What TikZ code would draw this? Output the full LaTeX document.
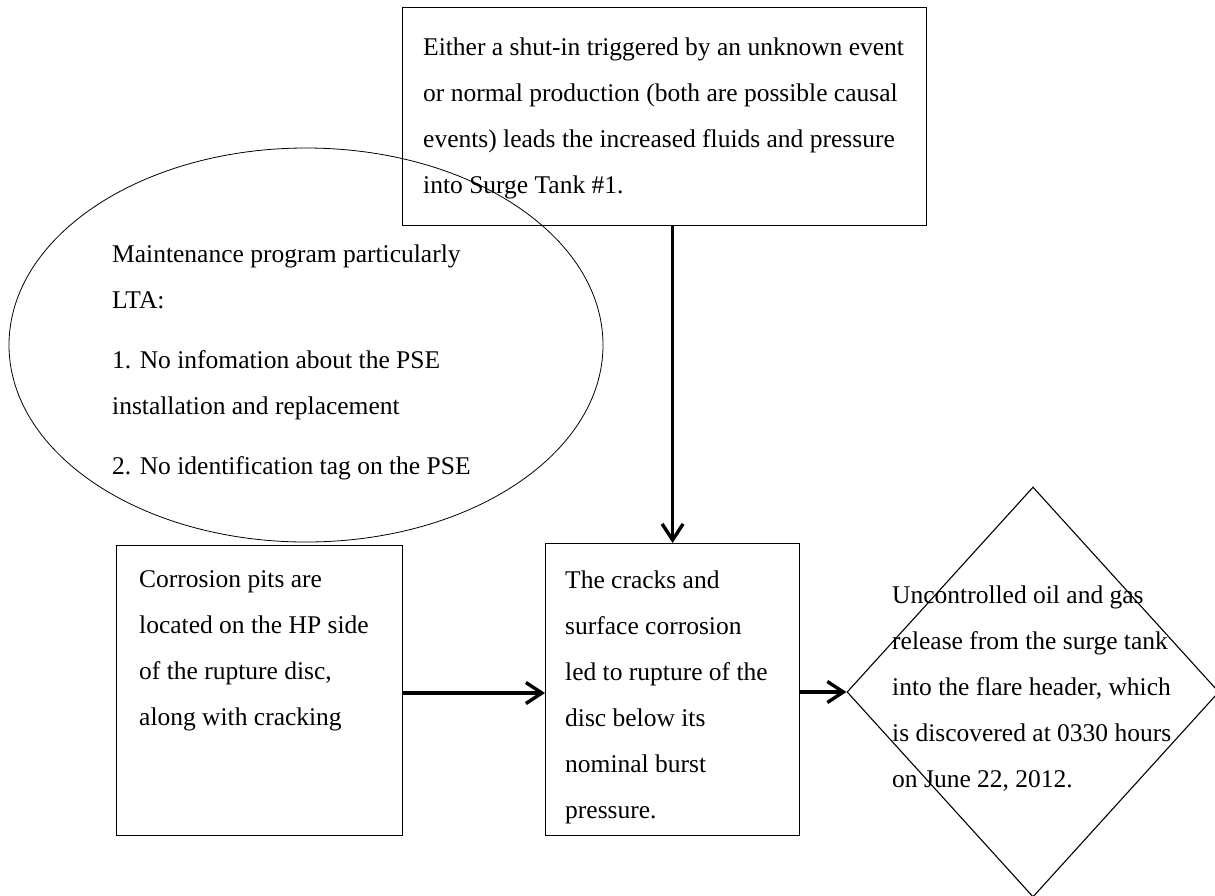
\documentclass[tikz,border=0pt]{standalone}
\usepackage{fontspec}
\setmainfont{Liberation Serif}
\usetikzlibrary{arrows.meta,shapes.geometric}
\begin{document}
\begin{tikzpicture}[x=1pt,y=-1pt,
  txt/.style={inner sep=0pt, anchor=north west, align=left, font=\fontsize{25.5}{46}\selectfont},
  stepbox/.style={draw, line width=1.2pt, rectangle, inner sep=0pt, anchor=north west},
  flow/.style={line width=3.6pt, -{Straight Barb[length=16pt,width=21pt,line width=3.4pt]}}]
\useasboundingbox (0,0) rectangle (1215,895);

% ellipse
\node[draw, ellipse, line width=0.8pt, inner sep=0pt, minimum width=594pt, minimum height=394pt] (ell) at (306,345) {};
\node[txt] (ellt) at (112,244.5) {Maintenance program particularly\\ LTA:\\[14pt] 1. No infomation about the PSE\\ installation and replacement\\[14pt] 2. No identification tag on the PSE};

% top box
\node[stepbox, minimum width=524pt, minimum height=218pt] (top) at (402,7) {};
\node[txt] (topt) at (423,37.5) {Either a shut-in triggered by an unknown event\\ or normal production (both are possible causal\\ events) leads the increased fluids and pressure\\ into Surge Tank \#1.};

% left box
\node[stepbox, minimum width=286pt, minimum height=290pt] (lb) at (116,545) {};
\node[txt] (lbt) at (139,570.5) {Corrosion pits are\\ located on the HP side\\ of the rupture disc,\\ along with cracking};

% middle box
\node[stepbox, minimum width=254pt, minimum height=292pt] (mid) at (545,543) {};
\node[txt] (midt) at (565,570.5) {The cracks and\\ surface corrosion\\ led to rupture of the\\ disc below its\\ nominal burst\\ pressure.};

% diamond
\node[draw, diamond, line width=1.1pt, inner sep=0pt, minimum width=372pt, minimum height=410pt] (dia) at (1033,692) {};
\node[txt] (diat) at (892,585.5) {Uncontrolled oil and gas\\ release from the surge tank\\ into the flare header, which\\ is discovered at 0330 hours\\ on June 22, 2012.};

% arrows
\draw[flow] (mid.north |- top.south) -- (mid.north);
\draw[flow] (lb.east |- 0,693) -- (mid.west |- 0,693);
\draw[flow] (mid.east |- dia.west) -- (dia.west);
\end{tikzpicture}
\end{document}
